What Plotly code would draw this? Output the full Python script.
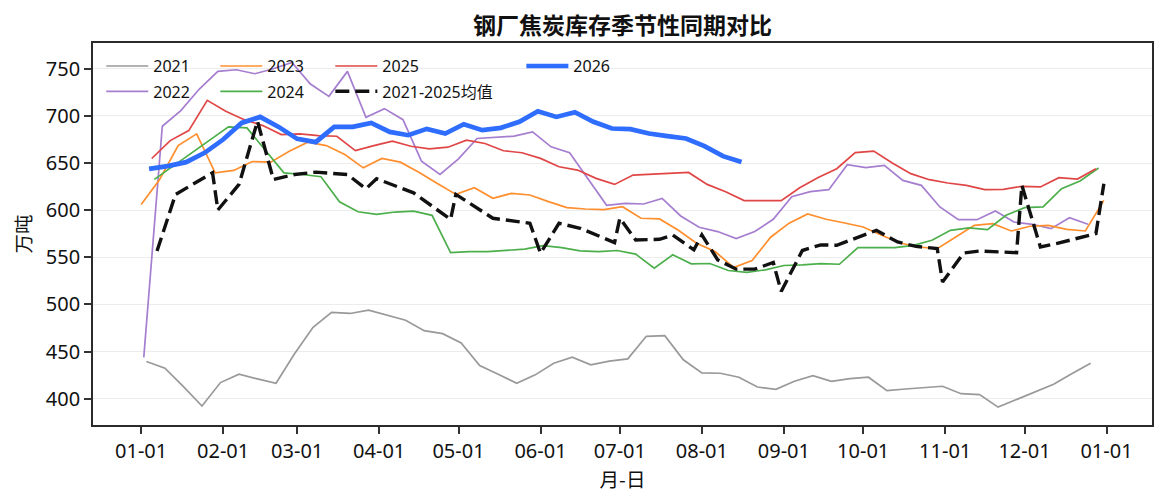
import pandas as pd
import plotly.graph_objects as go

BASE_YEAR = 2025  # common (non-leap) year used to align month-day

# ---------------- data (万吨), weekly series ----------------
start_2021 = "01-03"
values_2021 = [439.5, 432.4, 412.8, 392.2, 417.1, 426.0, 421.0, 416.4, 447.7, 475.8,
               491.5, 490.4, 494.0, 488.6, 483.3, 472.2, 469.0, 459.1, 435.2, 426.0,
               416.4, 425.3, 437.7, 444.1, 435.9, 439.9, 442.2, 466.2, 466.9, 441.3,
               427.4, 427.0, 422.8, 412.4, 410.0, 418.5, 424.5, 418.5, 421.3, 422.8,
               408.5, 410.3, 411.7, 413.2, 405.3, 404.3, 391.1, 399.3, 407.5, 415.3,
               426.7, 437.7]

start_2022 = "01-02"
values_2022 = [443.8, 689.0, 705.6, 728.5, 747.2, 748.9, 744.7, 750.0, 756.7, 733.8,
               720.7, 747.2, 698.5, 707.7, 696.0, 652.0, 637.8, 654.4, 676.0, 677.1,
               678.5, 683.1, 667.2, 660.9, 633.0, 605.1, 607.2, 606.5, 612.5, 593.8,
               581.8, 577.3, 569.9, 577.3, 590.3, 614.3, 619.6, 621.7, 648.2, 645.1,
               647.5, 631.6, 626.3, 603.4, 589.9, 589.9, 599.1, 587.4, 585.0, 580.4,
               592.0, 585.0]

start_2023 = "01-01"
values_2023 = [606.1, 632.6, 668.5, 680.9, 639.6, 642.1, 651.6, 650.9, 662.5, 672.1,
               668.5, 659.0, 644.9, 654.8, 650.9, 640.3, 628.3, 616.7, 623.8, 612.5,
               617.8, 616.1, 609.0, 602.7, 601.2, 600.5, 603.7, 591.4, 590.7, 579.0,
               564.9, 556.1, 539.2, 546.6, 571.3, 586.2, 596.0, 590.3, 586.4, 582.1,
               573.3, 565.2, 560.9, 559.2, 571.5, 583.9, 585.7, 577.9, 582.9, 583.9,
               579.7, 577.9, 610.4]

start_2024 = "01-06"
values_2024 = [632.6, 646.4, 660.4, 674.3, 688.3, 687.2, 663.2, 639.6, 637.8, 635.4,
               608.9, 598.3, 595.5, 598.0, 599.0, 594.5, 555.0, 556.0, 556.1, 557.2,
               558.6, 562.4, 560.3, 556.8, 556.1, 557.2, 553.3, 538.5, 552.6, 543.0,
               543.4, 536.0, 533.9, 536.7, 541.3, 542.0, 543.3, 542.6, 560.2, 560.2,
               560.2, 562.7, 568.0, 578.6, 581.1, 579.3, 594.5, 602.6, 603.4, 622.8,
               631.0, 644.7]

start_2025 = "01-05"
values_2025 = [654.8, 673.8, 684.4, 716.5, 704.9, 696.0, 689.7, 680.2, 680.9, 679.1,
               678.4, 663.2, 668.5, 673.1, 667.8, 665.0, 666.8, 674.3, 670.7, 663.0,
               660.9, 654.9, 646.0, 642.5, 633.7, 627.3, 637.2, 637.9, 639.0, 640.0,
               627.3, 619.6, 610.1, 610.1, 610.1, 623.8, 634.7, 644.0, 661.0, 662.7,
               650.0, 638.7, 632.3, 628.8, 626.3, 621.7, 622.1, 625.3, 624.6, 634.5,
               633.0, 644.0]

start_2026 = "01-04"
values_2026 = [643.8, 646.7, 650.9, 660.8, 674.9, 692.5, 698.9, 688.3, 675.6, 672.1,
               688.3, 688.3, 692.5, 683.0, 679.5, 686.2, 681.3, 691.2, 684.8, 687.3,
               693.7, 704.9, 698.9, 703.9, 693.7, 686.6, 685.9, 681.3, 678.5, 676.0,
               667.9, 657.3, 651.0]

avg_dates = ["01-07", "01-14", "01-28", "01-30", "02-07", "02-14", "02-20", "02-28",
             "03-08", "03-20", "03-27", "03-31", "04-14", "04-28", "04-30", "05-14",
             "05-28", "06-01", "06-08", "06-16", "06-29", "07-01", "07-07", "07-16",
             "07-21", "07-29", "08-01", "08-07", "08-14", "08-21", "08-28", "08-31",
             "09-08", "09-15", "09-21", "09-29", "10-06", "10-14", "10-21", "10-29",
             "10-31", "11-08", "11-14", "11-28", "11-30", "12-07", "12-13", "12-28",
             "12-31"]
avg_values = [556.7, 616.7, 639.6, 600.1, 627.3, 694.3, 632.5, 637.8, 640.3, 637.8,
              622.7, 633.3, 618.4, 590.2, 616.7, 591.4, 586.1, 554.3, 586.1, 580.8,
              565.6, 591.4, 568.4, 569.1, 573.7, 557.9, 573.7, 547.3, 537.4, 537.4,
              544.5, 513.8, 557.2, 563.2, 562.7, 571.5, 578.6, 566.2, 561.6, 559.2,
              523.8, 554.6, 556.7, 554.9, 626.3, 560.9, 564.5, 575.1, 628.1]

tick_labels = ["01-01", "02-01", "03-01", "04-01", "05-01", "06-01", "07-01",
               "08-01", "09-01", "10-01", "11-01", "12-01", "01-01"]
y_ticks = [400, 450, 500, 550, 600, 650, 700, 750]

# ---------------- figure ----------------
FONT = "Noto Sans, Noto Sans CJK SC, sans-serif"

# the page places the figure 8px in from the top-left corner
FIG_W, FIG_H = 1158, 495


def weekly(start, n):
    return pd.date_range(f"{BASE_YEAR}-{start}", periods=n, freq="7D")


series = [
    ("2021", start_2021, values_2021, "#999999", 1.7, "legend"),
    ("2022", start_2022, values_2022, "#a57ecf", 1.7, "legend"),
    ("2023", start_2023, values_2023, "#ff8f2e", 1.7, "legend2"),
    ("2024", start_2024, values_2024, "#4caf4c", 1.7, "legend2"),
    ("2025", start_2025, values_2025, "#e04646", 1.7, "legend3"),
]

fig = go.Figure()
for name, start, vals, color, width, leg in series:
    fig.add_trace(go.Scatter(
        x=weekly(start, len(vals)), y=vals, mode="lines", name=name,
        line=dict(color=color, width=width), legend=leg, legendgroup=name,
    ))

fig.add_trace(go.Scatter(
    x=pd.to_datetime([f"{BASE_YEAR}-{d}" for d in avg_dates]), y=avg_values,
    mode="lines", name="2021-2025均值",
    line=dict(color="#111111", width=3.4, dash="14px,6px"),
    legend="legend3", legendgroup="avg",
))

fig.add_trace(go.Scatter(
    x=weekly(start_2026, len(values_2026)), y=values_2026, mode="lines", name="2026",
    line=dict(color="#2f6dff", width=4.7), legend="legend4", legendgroup="2026",
))

tick_vals = [pd.Timestamp(f"{BASE_YEAR}-{m:02d}-01") for m in range(1, 13)] + \
            [pd.Timestamp(f"{BASE_YEAR + 1}-01-01")]

leg_common = dict(
    yanchor="top", xanchor="left", y=0.984, bgcolor="rgba(0,0,0,0)",
    font=dict(family=FONT, size=16, color="#111111"),
    itemwidth=42, tracegroupgap=1.5, orientation="v",
)

fig.update_layout(
    width=FIG_W, height=FIG_H,
    margin=dict(l=85, r=14, t=35, b=78, autoexpand=False),
    paper_bgcolor="white", plot_bgcolor="white",
    font=dict(family=FONT, color="#111111"),
    title=dict(text="<b>钢厂焦炭库存季节性同期对比</b>", x=0.5, xref="paper",
               xanchor="center", y=1 - 18 / FIG_H, yanchor="middle",
               font=dict(family="Noto Sans CJK SC", size=23, color="#111111")),
    showlegend=True,
    legend=dict(x=0.0078, **leg_common),
    legend2=dict(x=0.1155, **leg_common),
    legend3=dict(x=0.2241, **leg_common),
    legend4=dict(x=0.4045, **leg_common),
)

fig.update_xaxes(
    type="date", automargin=False,
    range=["2024-12-13 19:12", "2026-01-18 04:48"],
    tickvals=tick_vals, ticktext=tick_labels,
    ticks="outside", ticklen=7, tickwidth=1.5, tickcolor="#333333",
    showline=True, linecolor="#2b2b2b", linewidth=1.6, mirror=True,
    showgrid=False, zeroline=False,
    tickfont=dict(family=FONT, size=20, color="#111111"),
    title=dict(text="月-日", standoff=5,
               font=dict(family="Noto Sans CJK SC", size=19.5, color="#111111")),
)

fig.update_yaxes(
    range=[372.1, 777.3], automargin=False,
    tickvals=y_ticks,
    ticks="outside", ticklen=7, tickwidth=1.5, tickcolor="#333333",
    showline=True, linecolor="#2b2b2b", linewidth=1.6, mirror=True,
    showgrid=True, gridcolor="#ececec", gridwidth=1.2, zeroline=False,
    tickfont=dict(family=FONT, size=20, color="#111111"),
    title=dict(text="万吨", standoff=10,
               font=dict(family="Noto Sans CJK SC", size=19.5, color="#111111")),
)

fig.write_html("out.html")
